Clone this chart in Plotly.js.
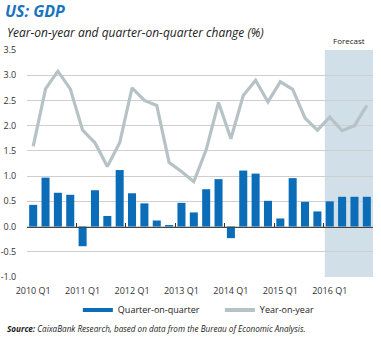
<!DOCTYPE html>
<html>
<head>
<meta charset="utf-8">
<script src="https://cdn.plot.ly/plotly-3.0.1.min.js"></script>
<style>html,body{margin:0;padding:0;background:#fff;}#chart{width:381px;height:338px;}</style>
</head>
<body>
<div id="chart"></div>
<script>
var quarters = [
  '2010 Q1','2010 Q2','2010 Q3','2010 Q4',
  '2011 Q1','2011 Q2','2011 Q3','2011 Q4',
  '2012 Q1','2012 Q2','2012 Q3','2012 Q4',
  '2013 Q1','2013 Q2','2013 Q3','2013 Q4',
  '2014 Q1','2014 Q2','2014 Q3','2014 Q4',
  '2015 Q1','2015 Q2','2015 Q3','2015 Q4',
  '2016 Q1','2016 Q2','2016 Q3','2016 Q4'
];
var qoq = [0.43,0.97,0.67,0.63, -0.39,0.72,0.21,1.12, 0.66,0.46,0.12,0.03,
           0.47,0.28,0.74,0.94, -0.23,1.11,1.05,0.51, 0.16,0.96,0.49,0.30,
           0.50,0.59,0.59,0.59];
var yoy = [1.59,2.73,3.08,2.73, 1.91,1.66,1.19,1.66, 2.75,2.50,2.40,1.27,
           1.09,0.89,1.52,2.46, 1.74,2.60,2.90,2.47, 2.87,2.72,2.15,1.91,
           2.17,1.90,2.00,2.40];
var forecastFrom = '2016 Q1';
var yTicks = [-1.0,-0.5,0.0,0.5,1.0,1.5,2.0,2.5,3.0,3.5];

var idx = quarters.map(function(q,i){return i;});
var q1Idx = idx.filter(function(i){return quarters[i].indexOf('Q1')>0;});
var q1Lab = q1Idx.map(function(i){return quarters[i];});
var boundaries = q1Idx.filter(function(i){return i>0;}).map(function(i){return i-0.5;}).concat([quarters.length-0.5]);
var fStart = quarters.indexOf(forecastFrom);
var xr = [-0.5, quarters.length-0.5];
var yr = [yTicks[0], yTicks[yTicks.length-1]];

var blue = '#0b6db7', grey = '#b6c2c6';
var font = 'Open Sans, Noto Sans, sans-serif';

var traces = [
  {type:'bar', x:idx, y:qoq, marker:{color:blue}, showlegend:false, hoverinfo:'skip'},
  {type:'scatter', mode:'lines', x:idx, y:yoy, xaxis:'x2', line:{color:grey, width:3.2}, showlegend:false, hoverinfo:'skip'},
  {type:'scatter', mode:'lines', x:[null], y:[null], name:'Quarter-on-quarter', line:{color:blue, width:4}},
  {type:'scatter', mode:'lines', x:[null], y:[null], name:'Year-on-year', line:{color:grey, width:4}}
];

var layout = {
  width:381, height:338,
  margin:{l:27, r:8, t:50, b:61},
  paper_bgcolor:'#fff', plot_bgcolor:'#fff',
  font:{family:font, size:9, color:'#333'},
  bargap:0.35,
  title:{text:'<b><i>US: GDP</i></b>', x:0.013, xanchor:'left', y:0.965, yanchor:'middle',
         font:{family:font, size:16, color:'#1a74be'}},
  xaxis:{range:xr, tickvals:q1Idx, ticktext:q1Lab, ticks:'outside', ticklen:5, tickcolor:'rgba(0,0,0,0)',
         showgrid:false, zeroline:false, showline:false, tickfont:{size:9, color:'#333'}, fixedrange:true},
  xaxis2:{range:xr, overlaying:'x', anchor:'free', position:(0-yr[0])/(yr[1]-yr[0]),
          side:'bottom', tickvals:boundaries, ticks:'inside', ticklen:4, tickcolor:'#333', tickwidth:1,
          showticklabels:false, showline:true, linecolor:'#444', linewidth:1, showgrid:false, zeroline:false},
  yaxis:{range:yr, tickvals:yTicks, ticktext:yTicks.map(function(v){return v.toFixed(1);}),
         showgrid:true, gridcolor:'#cfcfcf', gridwidth:1, zeroline:false,
         ticks:'outside', ticklen:8, tickcolor:'rgba(0,0,0,0)', showline:false,
         tickfont:{size:9, color:'#333'}},
  shapes:[{type:'rect', xref:'x', yref:'y', x0:fStart-0.4, x1:xr[1], y0:yr[0], y1:yr[1],
           fillcolor:'#d0dfe8', line:{width:0}, layer:'below'}],
  legend:{orientation:'h', x:0.147, xanchor:'left', y:-0.145, yanchor:'middle', entrywidth:97,
          font:{size:9, color:'#222'}, bgcolor:'rgba(0,0,0,0)'},
  annotations:[
    {text:'<i>Year-on-year and quarter-on-quarter change (%)</i>', xref:'paper', yref:'paper',
     x:-0.0636, y:1.079, xanchor:'left', yanchor:'middle', showarrow:false,
     font:{family:font, size:12, color:'#222'}},
    {text:'Forecast', xref:'x', yref:'paper', x:(fStart-0.4+xr[1])/2, y:1.04, xanchor:'center', yanchor:'middle',
     showarrow:false, font:{family:font, size:8, color:'#222'}},
    {text:'<b><i>Source:</i></b><i> CaixaBank Research, based on data from the Bureau of Economic Analysis.</i>',
     xref:'paper', yref:'paper', x:-0.0636, y:-0.225, xanchor:'left', yanchor:'middle', showarrow:false,
     font:{family:font, size:8.15, color:'#222'}}
  ]
};
Plotly.newPlot('chart', traces, layout, {displayModeBar:false, staticPlot:true});
</script>
</body>
</html>
